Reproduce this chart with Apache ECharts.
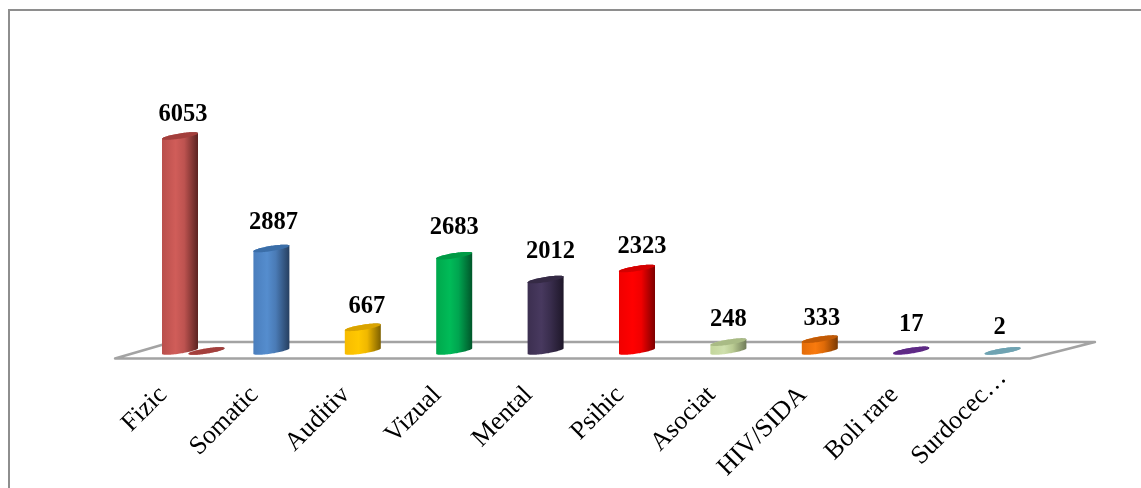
<!DOCTYPE html>
<html>
<head>
<meta charset="utf-8">
<style>html,body{margin:0;padding:0;background:#fff}#c{width:1141px;height:488px}</style>
<script src="https://cdn.jsdelivr.net/npm/echarts@6/dist/echarts.min.js"></script>
</head>
<body>
<div id="c"></div>
<script>
const categories = ['Fizic','Somatic','Auditiv','Vizual','Mental','Psihic','Asociat','HIV/SIDA','Boli rare','Surdocec…'];
const values = [6053,2887,667,2683,2012,2323,248,333,17,2];
const secondaryValues = [0];
// small hand placement of the value labels: [dx, distance above the cap]
const labelNudge = [[3,21],[2,25.5],[4,21],[0,27.7],[5,27.5],[5,21.5],[0,23],[2,21],[0,26],[-3,23]];
// [light/left, highlight, mid, dark/right, cap]
const palette = [
  ['#b94f4c','#d05d59','#bd5350','#5b2321','#a33f3c'],
  ['#4a7ebd','#558dce','#4a7bb6','#263f60','#3b6ea8'],
  ['#f7bb00','#ffc800','#f0b800','#7d6000','#d9a300'],
  ['#00a84c','#00bb58','#00a550','#00562a','#009a45'],
  ['#3c2f50','#48395f','#3a2e4e','#1e1729','#352a45'],
  ['#f00000','#ff0000','#f00000','#7d0000','#d40000'],
  ['#c3d69b','#cfe0ad','#b9cb92','#6f7b58','#a9bb85'],
  ['#e36c09','#f97a0e','#de6a08','#7a3a05','#c25a05'],
  ['#6a2d98','#7030a0','#6a2d98','#4a1f6c','#5e2a85'],
  ['#78aebd','#85bccb','#78aebd','#5a8a98','#6fa3b2']
];
const RX = 18, SHEAR = 2.8, RY = 2.6;
function ell(cx, cy, a) {
  return [cx + RX * Math.cos(a), cy - SHEAR * Math.cos(a) + RY * Math.sin(a)];
}
function cylinder(cx, top, base, p) {
  const side = [], cap = [], N = 40;
  for (let i = 0; i <= N; i++) side.push(ell(cx, top, Math.PI + Math.PI * i / N));
  for (let i = 0; i <= N; i++) side.push(ell(cx, base, Math.PI * i / N));
  for (let i = 0; i < 2 * N; i++) cap.push(ell(cx, top, Math.PI * i / N));
  return [
    { type: 'polygon', shape: { points: side }, style: { fill: {
      type: 'linear', x: 0, y: 0, x2: 1, y2: 0,
      colorStops: [{offset:0,color:p[0]},{offset:0.38,color:p[1]},{offset:0.62,color:p[2]},{offset:1,color:p[3]}]
    } } },
    { type: 'polygon', shape: { points: cap }, style: { fill: p[4] } }
  ];
}
const serif = '"Liberation Serif","Times New Roman",serif';
const chart = echarts.init(document.getElementById('c'), null, { renderer: 'canvas' });
chart.setOption({
  animation: false,
  backgroundColor: '#fff',
  graphic: [
    { type:'polyline', z:0, shape:{points:[[9,488],[9,10],[1141,10]]}, style:{stroke:'#8e8e8e',lineWidth:2,fill:null} },
    { type:'polyline', z:0, shape:{points:[[165,344],[115,358.5],[1030,358.5],[1095,342],[165,342]]}, style:{stroke:'#a3a3a3',lineWidth:2.4,fill:'#fff',lineJoin:'round'} }
  ],
  grid: { left: 134.3, width: 914, top: 102.4, height: 248.6 },
  xAxis: {
    type: 'category', data: categories,
    axisLine: { show: false }, axisTick: { show: false }, splitLine: { show: false },
    axisLabel: {
      interval: 0, rotate: 45, margin: 23, color: '#000', fontFamily: serif, fontSize: 26, hideOverlap: false,
      formatter(v, i) { return (i === categories.length - 1 ? '{b|' : '{a|') + v + '}'; },
      rich: {
        a: { fontFamily: serif, fontSize: 26, color: '#000', padding: [0, 24, 0, 0] },
        b: { fontFamily: serif, fontSize: 26, color: '#000', padding: [0, 0, 0, 0] }
      }
    }
  },
  yAxis: { type: 'value', min: 0, max: 7000, show: false },
  series: [
    {
      type: 'custom', coordinateSystem: 'cartesian2d', clip: false, z: 2,
      data: secondaryValues.map((v, i) => [i, v]),
      encode: { x: 0, y: 1 },
      renderItem(params, api) {
        const pt = api.coord([api.value(0), api.value(1)]);
        return { type: 'group', children: cylinder(pt[0] + 26.5, pt[1], pt[1], palette[0]) };
      }
    },
    {
      type: 'custom', coordinateSystem: 'cartesian2d', clip: false, z: 3,
      data: values.map((v, i) => [i, v]),
      encode: { x: 0, y: 1 },
      renderItem(params, api) {
        const i = api.value(0), v = api.value(1);
        const top = api.coord([i, v]), base = api.coord([i, 0]);
        const kids = cylinder(top[0], top[1], base[1], palette[i]);
        kids.push({ type: 'text', style: {
          text: String(v), x: top[0] + labelNudge[i][0], y: top[1] - labelNudge[i][1], align: 'center', verticalAlign: 'middle',
          fill: '#000', font: 'bold 24.5px ' + serif
        } });
        return { type: 'group', children: kids };
      }
    }
  ]
});
</script>
</body>
</html>
